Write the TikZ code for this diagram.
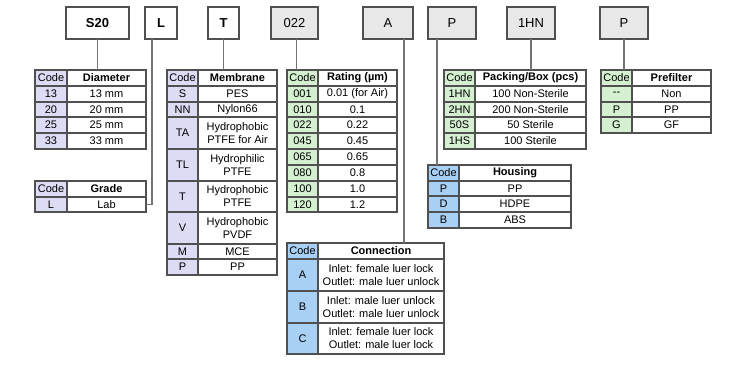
\documentclass[tikz,border=0pt]{standalone}
\usepackage{fontspec}
\setmainfont{Liberation Sans}
\usepackage{tikz}
\usetikzlibrary{calc}

\definecolor{tabline}{HTML}{505050}
\definecolor{lav}{HTML}{DCDCF5}
\definecolor{mint}{HTML}{D4F0D0}
\definecolor{sky}{HTML}{A8D0F5}
\definecolor{tagfill}{HTML}{E8E8E8}

% one cell: name, style, x1, y1, x2, y2, text
\newcommand*{\cell}[7]{\node[#2, minimum width={#5pt-#3pt}, minimum height={#6pt-#4pt}] (#1) at ({(#3+#5)/2}, {(#4+#6)/2}) {#7};}
% one table row: name, code style, x left, x mid, x right, y top, y bottom, code, value
\newcommand*{\crow}[9]{\cell{#1c}{#2}{#3}{#6}{#4}{#7}{#8}\cell{#1v}{val}{#4}{#6}{#5}{#7}{#9}}

\begin{document}
\begin{tikzpicture}[x=1pt, y=-1pt,
 every node/.style={font=\fontsize{11}{13}\selectfont},
cellbox/.style={rectangle, draw=tabline, line width=1.2pt, inner sep=0pt, outer sep=0pt, align=center},
pcode/.style={cellbox, fill=lav},
gcode/.style={cellbox, fill=mint},
bcode/.style={cellbox, fill=sky},
val/.style={cellbox, fill=white},
tag/.style={cellbox, fill=tagfill, font=\fontsize{13}{15}\selectfont},
top/.style={tag, fill=white},
link/.style={draw=tabline!80, line width=1.2pt}]

\useasboundingbox[fill=white] (0,0) rectangle (746,387);

% order code boxes
\cell{s20}{top}{66}{7}{129}{39}{\textbf{S20}}
\cell{lab}{top}{145}{7}{177}{39}{\textbf{L}}
\cell{mem}{top}{208}{7}{239}{39}{\textbf{T}}
\cell{rat}{tag}{271}{7}{318}{39}{022}
\cell{con}{tag}{363}{7}{413}{39}{A}
\cell{hou}{tag}{428}{7}{476}{39}{P}
\cell{pac}{tag}{507}{7}{555}{39}{1HN}
\cell{pre}{tag}{600}{7}{648}{39}{P}

% diameter
\crow{dia0}{pcode}{35}{67}{146}{70}{86}{Code}{\textbf{Diameter}}
\crow{dia1}{pcode}{35}{67}{146}{86}{102}{13}{13 mm}
\crow{dia2}{pcode}{35}{67}{146}{102}{117}{20}{20 mm}
\crow{dia3}{pcode}{35}{67}{146}{117}{133}{25}{25 mm}
\crow{dia4}{pcode}{35}{67}{146}{133}{149}{33}{33 mm}

% grade
\crow{gra0}{pcode}{35}{67}{146}{181}{197}{Code}{\textbf{Grade}}
\crow{gra1}{pcode}{35}{67}{146}{197}{212}{L}{Lab}

% membrane
\crow{mem0}{pcode}{167}{198}{277}{70}{86}{Code}{\textbf{Membrane}}
\crow{mem1}{pcode}{167}{198}{277}{86}{102}{S}{PES}
\crow{mem2}{pcode}{167}{198}{277}{102}{117}{NN}{Nylon66}
\crow{mem3}{pcode}{167}{198}{277}{117}{149}{TA}{Hydrophobic\\PTFE for Air}
\crow{mem4}{pcode}{167}{198}{277}{149}{181}{TL}{Hydrophilic\\PTFE}
\crow{mem5}{pcode}{167}{198}{277}{181}{212}{T}{Hydrophobic\\PTFE}
\crow{mem6}{pcode}{167}{198}{277}{212}{244}{V}{Hydrophobic\\PVDF}
\crow{mem7}{pcode}{167}{198}{277}{244}{259}{M}{MCE}
\crow{mem8}{pcode}{167}{198}{277}{259}{275}{P}{PP}

% rating
\crow{rat0}{gcode}{287}{318}{397}{70}{86}{Code}{\textbf{Rating (µm)}}
\crow{rat1}{gcode}{287}{318}{397}{86}{102}{001}{0.01 (for Air)}
\crow{rat2}{gcode}{287}{318}{397}{102}{117}{010}{0.1}
\crow{rat3}{gcode}{287}{318}{397}{117}{133}{022}{0.22}
\crow{rat4}{gcode}{287}{318}{397}{133}{149}{045}{0.45}
\crow{rat5}{gcode}{287}{318}{397}{149}{165}{065}{0.65}
\crow{rat6}{gcode}{287}{318}{397}{165}{181}{080}{0.8}
\crow{rat7}{gcode}{287}{318}{397}{181}{197}{100}{1.0}
\crow{rat8}{gcode}{287}{318}{397}{197}{212}{120}{1.2}

% connection
\crow{con0}{bcode}{287}{318}{444}{243}{259}{Code}{\textbf{Connection}}
\crow{con1}{bcode}{287}{318}{444}{259}{291}{A}{Inlet: female luer lock\\Outlet: male luer unlock}
\crow{con2}{bcode}{287}{318}{444}{291}{323}{B}{Inlet: male luer unlock\\Outlet: male luer unlock}
\crow{con3}{bcode}{287}{318}{444}{323}{354}{C}{Inlet: female luer lock\\Outlet: male luer lock}

% housing
\crow{hou0}{bcode}{428}{459}{571}{165}{181}{Code}{\textbf{Housing}}
\crow{hou1}{bcode}{428}{459}{571}{181}{196}{P}{PP}
\crow{hou2}{bcode}{428}{459}{571}{196}{212}{D}{HDPE}
\crow{hou3}{bcode}{428}{459}{571}{212}{228}{B}{ABS}

% packing
\crow{pac0}{gcode}{444}{475}{586}{70}{86}{Code}{\textbf{Packing/Box (pcs)}}
\crow{pac1}{gcode}{444}{475}{586}{86}{102}{1HN}{100 Non-Sterile}
\crow{pac2}{gcode}{444}{475}{586}{102}{117}{2HN}{200 Non-Sterile}
\crow{pac3}{gcode}{444}{475}{586}{117}{133}{50S}{50 Sterile}
\crow{pac4}{gcode}{444}{475}{586}{133}{149}{1HS}{100 Sterile}

% prefilter
\crow{pre0}{gcode}{601}{632}{711}{70}{86}{Code}{\textbf{Prefilter}}
\crow{pre1}{gcode}{601}{632}{711}{86}{102}{{-}{-}}{Non}
\crow{pre2}{gcode}{601}{632}{711}{102}{117}{P}{PP}
\crow{pre3}{gcode}{601}{632}{711}{117}{133}{G}{GF}

% links
\draw[link] (s20.south) -- (s20.south |- dia0v.north);
\draw[link] ([xshift=-9pt]lab.south) |- (gra1v.east);
\draw[link] (mem.south) -- (mem.south |- mem0v.north);
\draw[link] ([xshift=2pt]rat.south) -- ([xshift=2pt]rat.south |- rat0c.north);
\draw[link] ([xshift=16pt]con.south) -- ([xshift=16pt]con.south |- con0v.north);
\draw[link] ([xshift=-15pt]hou.south) -- ([xshift=-15pt]hou.south |- hou0c.north);
\draw[link] (pac.south) -- (pac.south |- pac0v.north);
\draw[link] (pre.south) -- (pre.south |- pre0c.north);

\end{tikzpicture}
\end{document}
